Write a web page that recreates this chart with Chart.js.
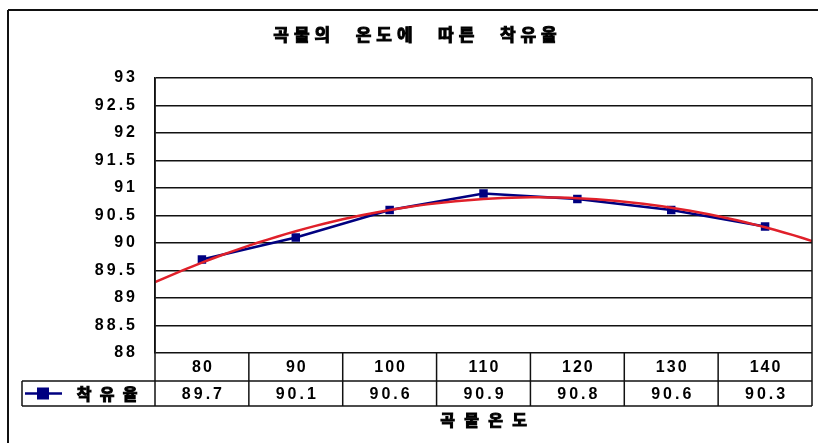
<!DOCTYPE html>
<html lang="ko">
<head>
<meta charset="utf-8">
<title>곡물의 온도에 따른 착유율</title>
<script src="https://cdn.jsdelivr.net/npm/chart.js@4/dist/chart.umd.min.js"></script>
<style>
  html, body { margin: 0; padding: 0; background: #fff; }
  canvas { display: block; }
</style>
</head>
<body>
<canvas id="chart" width="818" height="443"></canvas>
<script>
// 곡물 온도별 착유율 (%)
const chartTitle = '곡물의 온도에 따른 착유율';
const axisTitle = '곡물온도';
const seriesName = '착유율';
const categories = ['80', '90', '100', '110', '120', '130', '140'];
const yieldValues = [89.7, 90.1, 90.6, 90.9, 90.8, 90.6, 90.3];
const yMin = 88;
const yMax = 93;
const yStep = 0.5;

const NAVY = '#000080';
const TREND_RED = '#e0202a';
const NUM_FONT = 'bold 16px "Liberation Sans", Arial, sans-serif';
const KO_FONT = 'bold 17px "Noto Sans CJK KR", sans-serif';
const KO_FONT_SM = 'bold 16px "Noto Sans CJK KR", sans-serif';

// second-order polynomial trend fitted (least squares) to the series, x = 1..n
function quadFit(ys) {
  let s = [0, 0, 0, 0, 0], t = [0, 0, 0];
  ys.forEach((y, i) => {
    const x = i + 1;
    for (let k = 0; k < 5; k++) s[k] += Math.pow(x, k);
    for (let k = 0; k < 3; k++) t[k] += y * Math.pow(x, k);
  });
  // normal equations  [s0 s1 s2; s1 s2 s3; s2 s3 s4] [a b c] = [t0 t1 t2]
  const M = [[s[0], s[1], s[2], t[0]], [s[1], s[2], s[3], t[1]], [s[2], s[3], s[4], t[2]]];
  for (let i = 0; i < 3; i++) {
    for (let j = i + 1; j < 3; j++) {
      const f = M[j][i] / M[i][i];
      for (let k = i; k < 4; k++) M[j][k] -= f * M[i][k];
    }
  }
  const c = [0, 0, 0];
  for (let i = 2; i >= 0; i--) {
    let v = M[i][3];
    for (let k = i + 1; k < 3; k++) v -= M[i][k] * c[k];
    c[i] = v / M[i][i];
  }
  return x => c[0] + c[1] * x + c[2] * x * x;
}

const trend = quadFit(yieldValues);
const trendPoints = [];
for (let i = 0; i <= 70; i++) {
  const x = 0.5 + i * (categories.length / 70);
  trendPoints.push({ x, y: trend(x) });
}
const seriesPoints = yieldValues.map((v, i) => ({ x: i + 1, y: v }));

// draw heavy text one glyph at a time on a fixed pitch (wide-set Korean captions)
function drawSpaced(ctx, text, cx, cy, pitch) {
  const chars = Array.from(text);
  const start = cx - (chars.length - 1) * pitch / 2;
  ctx.textAlign = 'center';
  ctx.textBaseline = 'middle';
  ctx.lineWidth = 1;
  ctx.strokeStyle = ctx.fillStyle;
  chars.forEach((ch, i) => {
    if (ch === ' ') return;
    ctx.fillText(ch, start + i * pitch, cy);
    ctx.strokeText(ch, start + i * pitch, cy);
  });
}

function hLine(ctx, x1, x2, y) { ctx.beginPath(); ctx.moveTo(x1, y); ctx.lineTo(x2, y); ctx.stroke(); }
function vLine(ctx, x, y1, y2) { ctx.beginPath(); ctx.moveTo(x, y1); ctx.lineTo(x, y2); ctx.stroke(); }

const frameAndTable = {
  id: 'frameAndTable',
  beforeDraw(chart) {
    const ctx = chart.ctx;
    ctx.save();
    ctx.fillStyle = '#fff';
    ctx.fillRect(0, 0, chart.width, chart.height);
    ctx.restore();
    ctx.letterSpacing = '3px';
  },
  afterDraw(chart) {
    const ctx = chart.ctx;
    const xs = chart.scales.x;
    const ys = chart.scales.y;
    const area = chart.chartArea;
    ctx.save();
    ctx.letterSpacing = '0px';

    // outer frame
    ctx.strokeStyle = '#111';
    ctx.lineWidth = 2;
    hLine(ctx, 8, chart.width, 10);
    vLine(ctx, 8, 10, chart.height);

    // data table under the plot
    const edges = [];
    for (let i = 0; i <= categories.length; i++) edges.push(xs.getPixelForValue(0.5 + i));
    const r0 = ys.getPixelForValue(yMin);
    const r1 = r0 + 28;
    const r2 = r1 + 25;
    const legendLeft = 22;
    ctx.lineWidth = 1.5;
    ctx.strokeStyle = '#111';
    hLine(ctx, legendLeft, edges[edges.length - 1], r1);
    hLine(ctx, legendLeft, edges[edges.length - 1], r2);
    vLine(ctx, legendLeft, r1, r2);
    edges.forEach((e, i) => vLine(ctx, e, i === 0 || i === edges.length - 1 ? area.top : r0, r2));

    ctx.fillStyle = '#000';
    ctx.font = NUM_FONT;
    ctx.textAlign = 'center';
    ctx.textBaseline = 'middle';
    categories.forEach((c, i) => {
      ctx.letterSpacing = '2px';
      ctx.fillText(c, xs.getPixelForValue(i + 1) + 1, (r0 + r1) / 2 + 1);
      ctx.letterSpacing = '3px';
      ctx.fillText(yieldValues[i].toFixed(1), xs.getPixelForValue(i + 1) + 1.5, (r1 + r2) / 2 + 1);
    });
    ctx.letterSpacing = '0px';

    // legend key in the table
    const ly = (r1 + r2) / 2;
    ctx.strokeStyle = NAVY;
    ctx.lineWidth = 2.5;
    hLine(ctx, 25, 62, ly);
    ctx.fillStyle = NAVY;
    ctx.fillRect(37, ly - 6, 12, 12);
    ctx.fillStyle = '#000';
    ctx.font = KO_FONT_SM;
    drawSpaced(ctx, seriesName, 107, ly, 23);

    // captions
    ctx.font = KO_FONT;
    drawSpaced(ctx, chartTitle, 415, 35, 20.6);
    ctx.font = KO_FONT_SM;
    drawSpaced(ctx, axisTitle, (area.left + area.right) / 2, 420, 24);
    ctx.restore();
  }
};

new Chart(document.getElementById('chart'), {
  type: 'line',
  data: {
    datasets: [
      {
        label: '다항식 (' + seriesName + ')',
        data: trendPoints,
        borderColor: TREND_RED,
        borderWidth: 2.5,
        pointRadius: 0,
        tension: 0,
        fill: false
      },
      {
        label: seriesName,
        data: seriesPoints,
        borderColor: NAVY,
        backgroundColor: NAVY,
        borderWidth: 2.5,
        pointStyle: 'rect',
        pointRadius: 6,
        pointBorderWidth: 0,
        tension: 0,
        fill: false
      }
    ]
  },
  options: {
    responsive: false,
    animation: false,
    devicePixelRatio: 1,
    layout: { padding: { left: 0, top: 78, right: 5, bottom: 90 } },
    plugins: { legend: { display: false }, title: { display: false }, tooltip: { enabled: false } },
    scales: {
      x: {
        type: 'linear',
        min: 0.5,
        max: categories.length + 0.5,
        display: false
      },
      y: {
        min: yMin,
        max: yMax,
        afterFit(scale) { scale.width = 155; },
        border: { display: true, color: '#111', width: 1.5 },
        grid: { color: '#111', lineWidth: 1.5, drawTicks: false },
        ticks: {
          stepSize: yStep,
          padding: 17,
          color: '#000',
          font: { family: '"Liberation Sans", Arial, sans-serif', size: 16, weight: 'bold' },
          callback: v => String(v)
        }
      }
    }
  },
  plugins: [frameAndTable]
});
</script>
</body>
</html>
